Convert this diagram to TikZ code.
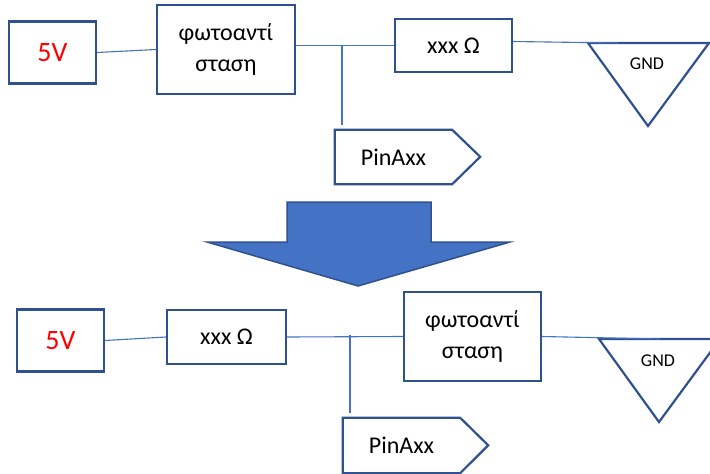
\documentclass[tikz,border=0pt]{standalone}
\usepackage{fontspec}
\setmainfont{Carlito}
\definecolor{boxblue}{HTML}{2F528F}
\definecolor{wireblue}{HTML}{4472C4}
\tikzset{
  blk/.style={draw=boxblue,line width=2.2pt,fill=white,inner sep=0pt,align=center,font=\fontsize{24}{31}\selectfont},
  volt/.style={blk,minimum width=87,minimum height=62,text=red,font=\fontsize{28}{34}\selectfont},
  pinbox/.style={inner sep=0pt,minimum width=117,minimum height=54,font=\fontsize{24}{31}\selectfont},
  gndlbl/.style={font=\fontsize{18}{20}\selectfont},
  wire/.style={wireblue,line width=1.1pt},
  outline/.style={draw=boxblue,line width=2.2pt,line join=miter},
}

\begin{document}
\begin{tikzpicture}[x=1pt,y=-1pt]
        \clip (0,0) rectangle (710,474);

        \node[volt] (vcc1) at (52.5,52.5) {5V};
        \node[blk,minimum width=138,minimum height=89] (ldr1) at (226,49.5) {φωτοαντί\\σταση};
        \node[blk,minimum width=117,minimum height=53] (res1) at (453.5,45.5) {xxx Ω};
        \node[pinbox] (pin1) at (393.5,157) {PinAxx};
        \coordinate (gl1) at (588,43);
        \coordinate (gr1) at (709,43);
        \coordinate (gb1) at (648,126);
        \coordinate (gin1) at (618,43);
        \node[gndlbl] (gnd1) at (647,64) {GND};
        \coordinate (jn1) at (342,46);

        \draw[outline] (pin1.north west) -- (pin1.north east) -- ++(28,27) -- (pin1.south east) -- (pin1.south west) -- cycle;
        \draw[outline] (gl1) -- (gr1) -- (gb1) -- cycle;
        \draw[wire] (vcc1.east) -- (ldr1.west);
        \draw[wire] (ldr1.east |- res1.west) -- (res1.west);
        \draw[wire] (jn1) -- ([yshift=5pt]pin1.north -| jn1);
        \draw[wire] ([yshift=4pt]res1.east) -- (gin1);

        \draw[draw=boxblue,fill=wireblue,line width=1.5pt] (287,202) -- (431,202) -- (431,242) -- (510,242) -- (358,286) -- (207,242) -- (287,242) -- cycle;

        \node[volt] (vcc2) at (60.5,340.5) {5V};
        \node[blk,minimum width=119,minimum height=54] (res2) at (226.5,337) {xxx Ω};
        \node[blk,minimum width=137,minimum height=89] (ldr2) at (472.5,336.5) {φωτοαντί\\σταση};
        \node[pinbox,minimum height=55] (pin2) at (401.5,445.5) {PinAxx};
        \coordinate (gl2) at (599,339);
        \coordinate (gr2) at (720,339);
        \coordinate (gb2) at (659,422);
        \coordinate (gin2) at (660,339);
        \node[gndlbl] (gnd2) at (658,361) {GND};
        \coordinate (jn2) at (350,334.5);

        \draw[outline] (pin2.north west) -- (pin2.north east) -- ++(28,27.5) -- (pin2.south east) -- (pin2.south west) -- cycle;
        \draw[outline] (gl2) -- (gr2) -- (gb2) -- cycle;
        \draw[wire] (vcc2.east) -- (res2.west);
        \draw[wire] (res2.east) -- (ldr2.west);
        \draw[wire] (jn2) -- ([yshift=5pt]pin2.north -| jn2);
        \draw[wire] (ldr2.east) -- (gin2);

      \end{tikzpicture}
\end{document}
